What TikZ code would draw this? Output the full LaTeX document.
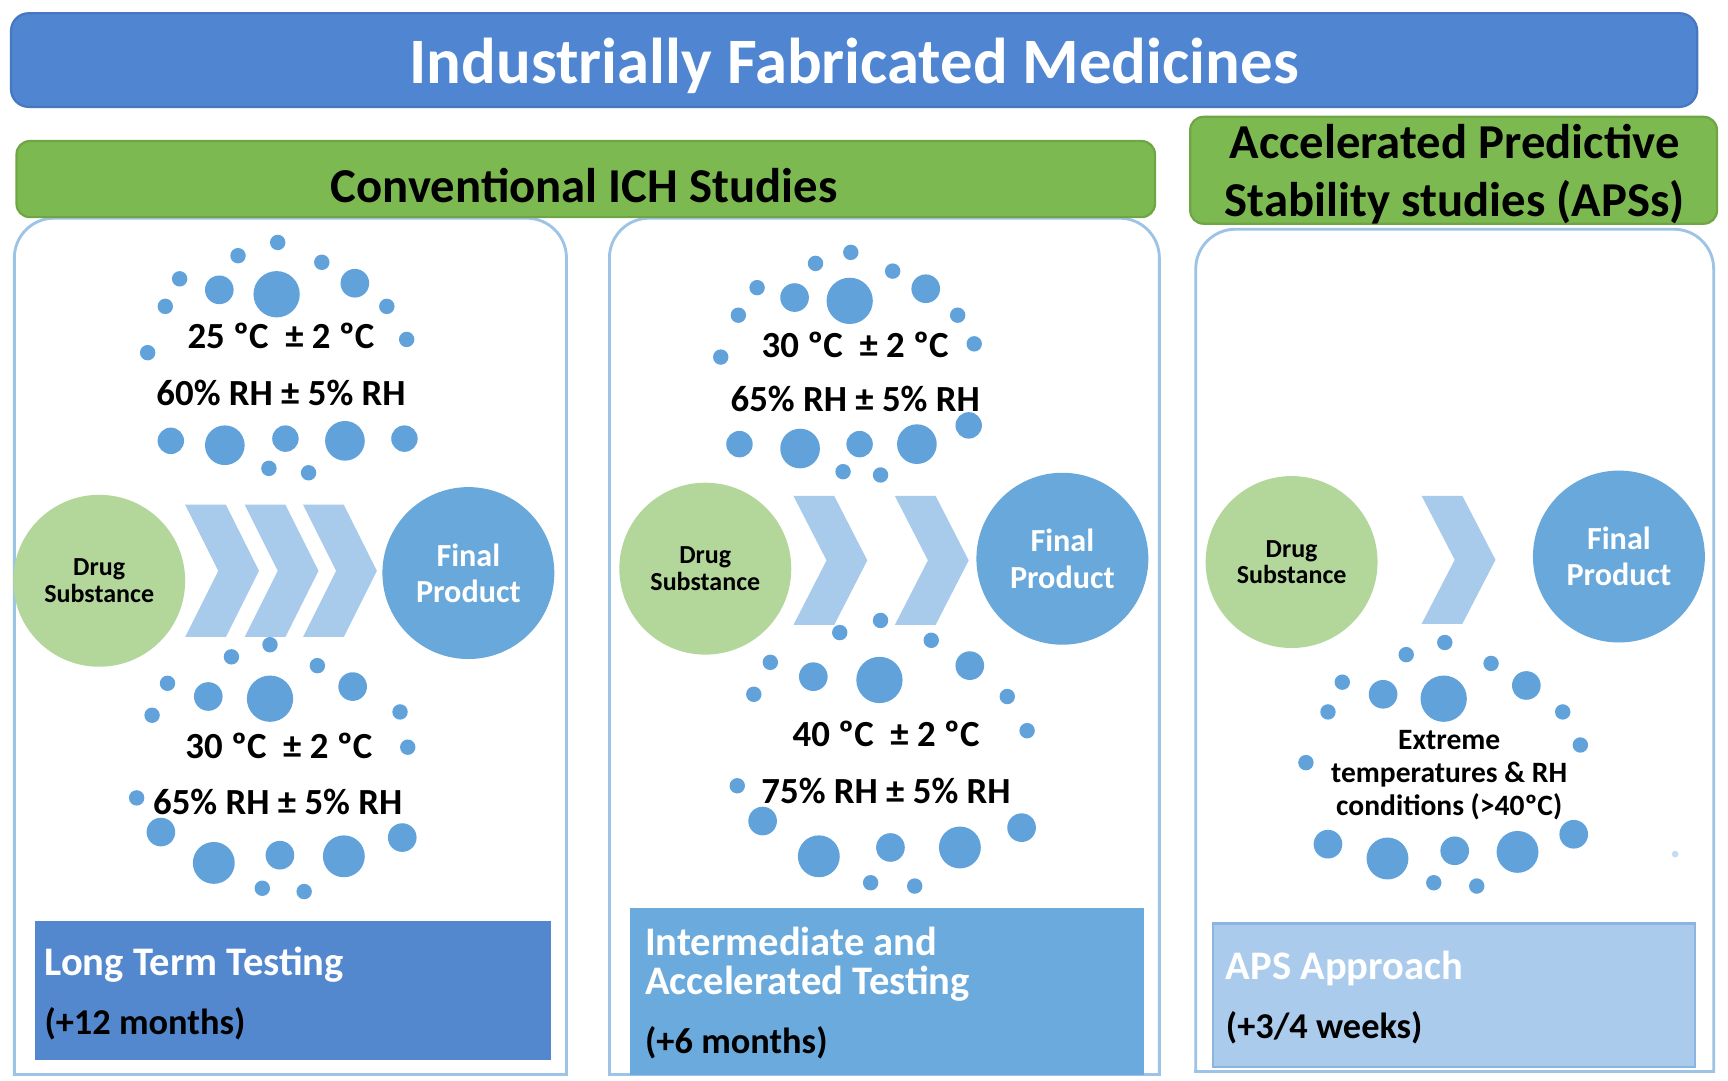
\documentclass[tikz,border=0pt]{standalone}
\usepackage{fontspec}
\setmainfont{Carlito}
\definecolor{titlec}{HTML}{5086D1}
\definecolor{titleedge}{HTML}{4677C0}
\definecolor{greenc}{HTML}{7DB951}
\definecolor{greenedge}{HTML}{6FA544}
\definecolor{panelc}{HTML}{9DC3E6}
\definecolor{drugc}{HTML}{B3D69A}
\definecolor{finalc}{HTML}{68A8DB}
\definecolor{dotc}{HTML}{62A2DB}
\definecolor{chevc}{HTML}{A9CBEB}
\definecolor{boxa}{HTML}{5488CE}
\definecolor{boxb}{HTML}{6BAADC}
\definecolor{boxc}{HTML}{AACBEC}
\definecolor{boxcedge}{HTML}{8CB4E1}
\newcommand\chevshape[3]{%
  \fill[chevc] (#1,#2) -- (#1+37,#2) -- (#1+67,{(#2+#3)/2}) -- (#1+37,#3) -- (#1,#3) -- (#1+30,{(#2+#3)/2}) -- cycle;}
\begin{document}
\begin{tikzpicture}[x=0.5pt,y=-0.5pt,
  panel/.style={draw=panelc, line width=1.3pt, line cap=rect},
  titlebar/.style={draw=titleedge, fill=titlec, line width=1pt, rounded corners=8pt, inner sep=0},
  greenbar/.style={draw=greenedge, fill=greenc, line width=1pt, rounded corners=6pt, inner sep=0},
  drugnode/.style={circle, fill=drugc, minimum size=78pt, inner sep=0, align=center,
     font=\fontsize{11.8pt}{12pt}\selectfont\bfseries, text=black},
  finalnode/.style={circle, fill=finalc, minimum size=78pt, inner sep=0, align=center,
     font=\fontsize{14.6pt}{16.5pt}\selectfont\bfseries, text=white},
  cond/.style={inner sep=0, font=\fontsize{16.7pt}{20pt}\selectfont\bfseries, text=black},
  condsmall/.style={inner sep=0, align=center, font=\fontsize{13.4pt}{15pt}\selectfont\bfseries, text=black},
  headtext/.style={inner sep=0, align=center, font=\fontsize{22.1pt}{26pt}\selectfont\bfseries, text=black},
  boxtitle/.style={inner sep=0, anchor=west, align=left, font=\fontsize{18.4pt}{18pt}\selectfont\bfseries, text=white},
  boxsub/.style={inner sep=0, anchor=west, font=\fontsize{16.5pt}{20pt}\selectfont\bfseries, text=black}
]
\useasboundingbox (0,0) rectangle (1568,980);
\fill[white] (0,0) rectangle (1568,980);

% panels
\draw[panel, rounded corners=18pt] (13,975) -- (13,198) -- (514,198) -- (514,975);
\draw[panel] (13,975) -- (514,975);
\draw[panel, rounded corners=18pt] (553,975) -- (553,198) -- (1052,198) -- (1052,975);
\draw[panel] (553,975) -- (1052,975);
\draw[panel, rounded corners=18pt] (1085,972) -- (1085,208) -- (1555,208) -- (1555,972);
\draw[panel] (1085,972) -- (1555,972);

% title bars
\node[titlebar, minimum width=765pt, minimum height=42.5pt] (titlebar) at (775,54.5) {};
\node[inner sep=0, text=white, font=\fontsize{29.4pt}{35pt}\selectfont\bfseries] (title) at (775,60) {Industrially Fabricated Medicines};
\node[greenbar, minimum width=516.5pt, minimum height=34.5pt] (ichbar) at (531.5,162.5) {};
\node[headtext] (ichtext) at (530,168) {Conventional ICH Studies};
\node[greenbar, minimum width=239pt, minimum height=48.5pt] (apsbar) at (1319,154.5) {};
\node[headtext] (apstext) at (1320,158) {Accelerated Predictive\\Stability studies (APSs)};

% bottom boxes
\node[fill=boxa, minimum width=234pt, minimum height=63pt, inner sep=0] (boxA) at (266,899) {};
\node[boxtitle] (boxAt) at (40,875) {Long Term Testing};
\node[boxsub] (boxAs) at (40,929) {(+12 months)};
\node[fill=boxb, minimum width=233pt, minimum height=75.5pt, inner sep=0] (boxB) at (805,899.5) {};
\node[boxtitle] (boxBt) at (585,875) {Intermediate and\\Accelerated Testing};
\node[boxsub] (boxBs) at (585,946) {(+6 months)};
\node[fill=boxc, draw=boxcedge, line width=1pt, minimum width=218.5pt, minimum height=65pt, inner sep=0] (boxC) at (1319.5,903) {};
\node[boxtitle] (boxCt) at (1112,879) {APS Approach};
\node[boxsub] (boxCs) at (1112,933) {(+3/4 weeks)};

% chevrons
\chevshape{168}{458}{578}
\chevshape{222}{458}{578}
\chevshape{275}{458}{578}
\chevshape{720}{450}{567}
\chevshape{812}{450}{567}
\chevshape{1290}{450}{566}

% dots
\foreach \x/\y/\r in {252/220/7, 216/232/7, 292/238/7, 163/253/7, 199/263/13, 251/267/21, 322/257/13, 150/278/7, 351/278/7, 369/308/7, 134/320/7, 155/400/12, 204/404/18, 259/398/12, 313/400/18, 367/398/12, 244/425/7, 280/429/7,
 245/585/7, 210/596/7, 288/604/7, 152/620/7, 189/632/13, 245/634/21, 320/623/13, 138/649/7, 363/646/7, 370/678/7, 124/724/7, 146/755/13, 194/783/19, 254/776/13, 312/777/19, 365/760/13, 238/806/7, 276/809/7,
 772/229/7, 740/239/7, 810/246/7, 687/261/7, 721/270/13, 771/273/21, 840/262/13, 670/286/7, 869/286/7, 884/312/7, 654/324/7, 671/403/12, 726/407/18, 780/403/12, 832/403/18, 879/386/12, 765/428/7, 799/431/7,
 799/563/7, 762/574/7, 845/581/7, 699/601/7, 738/614/13, 798/617/21, 880/604/13, 684/630/7, 914/632/7, 932/663/7, 669/713/7, 692/745/13, 743/777/19, 808/769/13, 871/769/19, 927/751/13, 790/801/7, 830/804/7,
 1311/583/7, 1276/594/7, 1353/602/7, 1218/619/7, 1255/630/13, 1310/634/21, 1385/622/13, 1205/646/7, 1418/646/7, 1434/676/7, 1185/692/7, 1205/766/13, 1259/779/19, 1320/772/13, 1377/773/19, 1428/757/13, 1301/801/7, 1340/804/7}
  \fill[dotc] (\x,\y) circle[radius=\r*0.5pt];
\fill[panelc!60] (1520,775) circle[radius=1.5pt];

% circles
\node[drugnode] (drugA) at (90,527) {Drug\\Substance};
\node[finalnode] (finalA) at (425,520) {Final\\Product};
\node[drugnode] (drugB) at (640,516) {Drug\\Substance};
\node[finalnode] (finalB) at (964,507) {Final\\Product};
\node[drugnode] (drugC) at (1172,510) {Drug\\Substance};
\node[finalnode] (finalC) at (1469,505) {Final\\Product};

% condition texts
\node[cond] (tA1) at (255,305) {25 ºC \ ± 2 ºC};
\node[cond] (hA1) at (255,357) {60\% RH ± 5\% RH};
\node[cond] (tA2) at (253,677) {30 ºC \ ± 2 ºC};
\node[cond] (hA2) at (252,728) {65\% RH ± 5\% RH};
\node[cond] (tB1) at (776,313) {30 ºC \ ± 2 ºC};
\node[cond] (hB1) at (776,362) {65\% RH ± 5\% RH};
\node[cond] (tB2) at (804,666) {40 ºC \ ± 2 ºC};
\node[cond] (hB2) at (804,718) {75\% RH ± 5\% RH};
\node[condsmall] (xC) at (1315,703) {Extreme\\temperatures \& RH\\conditions (>40ºC)};
\end{tikzpicture}
\end{document}
